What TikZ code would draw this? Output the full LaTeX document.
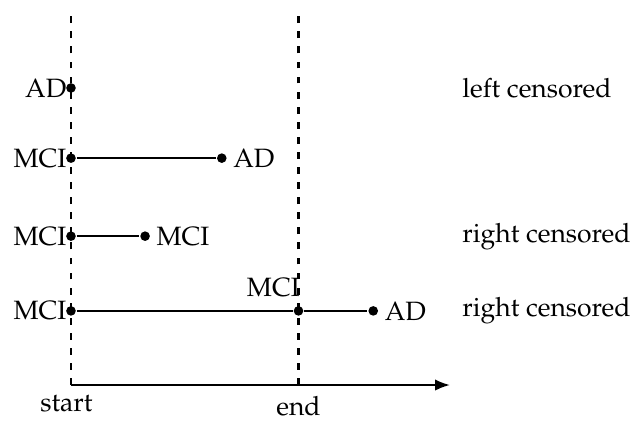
\documentclass[tikz,border=0pt]{standalone}
\usepackage[T1]{fontenc}
\usepackage{mathpazo}
\usetikzlibrary{arrows.meta}
\tikzset{>={Latex[length = 6.5pt, width = 5pt]}}
\tikzset{event/.style = {circle, fill, inner sep = 0pt, minimum size = 4.2pt}}
\tikzset{ltag/.style = {anchor = east, inner sep = 0pt, xshift = -1.6pt}}
\tikzset{rtag/.style = {anchor = west, inner sep = 0pt, xshift = 4.6pt}}
\tikzset{limit/.style = {line width = 1.1pt, dash pattern = on 3pt off 3.6pt}}

\begin{document}
\begin{tikzpicture}[font = \fontsize{11.6}{14}\selectfont, line width = 0.9pt]
\useasboundingbox (-1.092,-0.554) rectangle (8.646,5.923);

% time window
\coordinate (start) at (0,0);
\coordinate (end) at (3.5,0);
\coordinate (starttop) at (0,5.77);
\coordinate (endtop) at (3.5,5.77);
\coordinate (axisend) at (5.83,0);
\draw[limit] (start) -- (starttop);
\draw[limit] (end) -- (endtop);
\draw[->] (start) -- (axisend);
\node[below = 1pt, xshift = -2pt] (startlab) at (start) {start};
\node[below = 1pt] (endlab) at (end) {end};

% subjects
\node[event] (a1) at (0,4.57) {};
\node[ltag] at (a1.center) {AD};

\node[event] (a2) at (0,3.49) {};
\node[event] (b2) at (2.32,3.49) {};
\node[ltag] at (a2.center) {MCI};
\node[rtag] at (b2.center) {AD};
\draw (a2) -- (b2);

\node[event] (a3) at (0,2.29) {};
\node[event] (b3) at (1.14,2.29) {};
\node[ltag] at (a3.center) {MCI};
\node[rtag] at (b3.center) {MCI};
\draw (a3) -- (b3);

\node[event] (a4) at (0,1.14) {};
\node[event] (m4) at (3.5,1.14) {};
\node[event] (b4) at (4.65,1.14) {};
\node[ltag] at (a4.center) {MCI};
\node[rtag] at (b4.center) {AD};
\node[anchor = south east, inner sep = 0pt] (m4lab) at ([xshift = 1pt, yshift = 5.6pt]m4) {MCI};
\draw (a4) -- (m4) -- (b4);

\foreach \y/\n/\txt in {4.57/a1/left censored, 2.29/a3/right censored, 1.14/a4/right censored}
	\node[anchor = west] (\n txt) at (5.89,\y) {\txt};

\end{tikzpicture}
\end{document}
